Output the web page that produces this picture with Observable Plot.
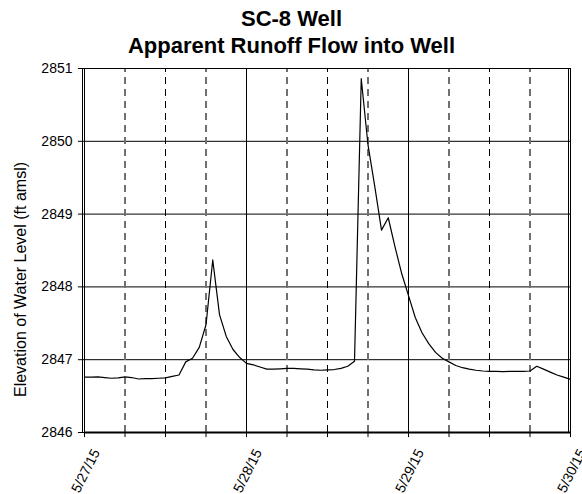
<!DOCTYPE html>
<html><head><meta charset="utf-8">
<script src="https://cdn.jsdelivr.net/npm/d3@7"></script>
<script src="https://cdn.jsdelivr.net/npm/@observablehq/plot@0.6"></script>
<style>body{margin:0;background:#fff} svg{overflow:visible}</style>
</head><body><div id="chart"></div>
<script>
const titleLines = ["SC-8 Well", "Apparent Runoff Flow into Well"];
const yLabel = "Elevation of Water Level (ft amsl)";

// hours since 5/27/15 00:00
const hours = [0,1,2,3,4,5,6,7,8,9,10,11,12,13,14,15,16,17,18,19,20,21,22,23,
  24,25,26,27,28,29,30,31,32,33,34,35,36,37,38,39,40,41,42,43,44,45,46,47,
  48,49,50,51,52,53,54,55,56,57,58,59,60,61,62,63,64,65,66,67,68,69,70,71,72];
const levels = [2846.76,2846.76,2846.765,2846.755,2846.745,2846.75,2846.765,2846.755,2846.735,2846.74,2846.74,2846.745,
  2846.75,2846.77,2846.79,2846.97,2847.02,2847.17,2847.48,2848.37,2847.62,2847.32,2847.14,2847.03,
  2846.95,2846.93,2846.90,2846.87,2846.87,2846.875,2846.88,2846.88,2846.875,2846.87,2846.86,2846.855,
  2846.86,2846.865,2846.88,2846.91,2846.98,2850.86,2849.95,2849.38,2848.78,2848.95,2848.55,2848.18,
  2847.88,2847.58,2847.37,2847.22,2847.10,2847.02,2846.97,2846.92,2846.89,2846.87,2846.855,2846.845,
  2846.84,2846.84,2846.835,2846.84,2846.84,2846.84,2846.845,2846.91,2846.87,2846.83,2846.79,2846.76,2846.73];

const dayTicks = [0, 24, 48, 72];
const dayLabels = ["5/27/15", "5/28/15", "5/29/15", "5/30/15"];
const greyDashTicks = [6, 18, 30, 42, 54, 66];
const blackDashTicks = [12, 36, 60];
const minorTicks = [0, 6, 12, 18, 24, 30, 36, 42, 48, 54, 60, 66, 72];
const yTicks = [2846, 2847, 2848, 2849, 2850, 2851];
const yGrid = [2847, 2848, 2849, 2850];

const data = hours.map((h, i) => ({h, v: levels[i]}));
const font = "'Liberation Sans', Arial, sans-serif";

const chart = Plot.plot({
  width: 582, height: 494,
  marginLeft: 84, marginRight: 12, marginTop: 68, marginBottom: 62,
  x: {domain: [0, 72], axis: null},
  y: {domain: [2846, 2851], axis: null},
  style: {fontFamily: font, background: "white", color: "black"},
  marks: [
    Plot.ruleY(yGrid, {stroke: "#000", strokeWidth: 1}),
    Plot.ruleX(greyDashTicks, {y1: 2846, y2: 2851, stroke: "#707070", strokeWidth: 2, strokeDasharray: "7,5"}),
    Plot.ruleX(blackDashTicks, {y1: 2846, y2: 2851, stroke: "#000", strokeWidth: 1, strokeDasharray: "7,5"}),
    Plot.ruleX([24, 48], {y1: 2846, y2: 2851, stroke: "#000", strokeWidth: 1}),
    Plot.ruleX(minorTicks, {y1: 2846, y2: 2845.93, stroke: "#000", strokeWidth: 1}),
    Plot.ruleY(yTicks, {x1: -0.9, x2: 0, stroke: "#000", strokeWidth: 1}),
    Plot.ruleY([2851], {x1: 0, x2: 72, stroke: "#000", strokeWidth: 1}),
    Plot.ruleY([2846], {x1: 0, x2: 72, stroke: "#000", strokeWidth: 2}),
    Plot.ruleX([0, 72], {y1: 2846, y2: 2851, stroke: "#000", strokeWidth: 1}),
    Plot.ruleX([0], {y1: 2846, y2: 2851, dx: -2, stroke: "#000", strokeWidth: 1}),
    Plot.ruleX([72], {y1: 2846, y2: 2851, dx: -2, stroke: "#000", strokeWidth: 1}),
    Plot.line(data, {x: "h", y: "v", stroke: "#000", strokeWidth: 1.2}),
    Plot.text(yTicks, {frameAnchor: "left", y: d => d, text: d => String(d), textAnchor: "end", dx: -12, fontSize: 14}),
    Plot.text(dayTicks, {frameAnchor: "bottom", x: d => d, text: (d, i) => dayLabels[i], rotate: -63,
      textAnchor: "end", lineAnchor: "top", dx: 7, dy: 15, fontSize: 14}),
    Plot.text([titleLines[0]], {frameAnchor: "top", dx: -36, dy: -58, fontSize: 22, fontWeight: "bold", lineAnchor: "top"}),
    Plot.text([titleLines[1]], {frameAnchor: "top", dx: -36, dy: -31, fontSize: 22, fontWeight: "bold", lineAnchor: "top"}),
    Plot.text([yLabel], {frameAnchor: "left", rotate: -90, dx: -64, dy: 29, fontSize: 16, textAnchor: "middle", lineAnchor: "middle"})
  ]
});
document.getElementById("chart").appendChild(chart);
</script>
</body></html>
